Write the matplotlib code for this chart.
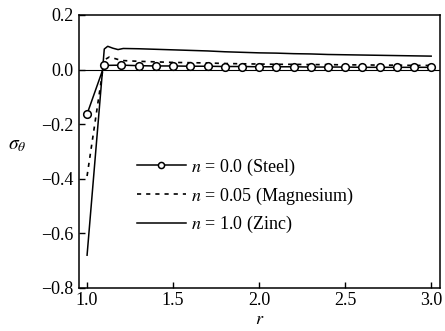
import matplotlib
matplotlib.use("Agg")
import matplotlib.pyplot as plt

plt.rcParams["font.family"] = ["Liberation Serif", "DejaVu Serif"]
plt.rcParams["mathtext.fontset"] = "stix"
plt.rcParams["font.size"] = 13

# hoop stress sigma_theta vs radius r for three hardening exponents
r_steel = [1.0, 1.1, 1.2, 1.3, 1.4, 1.5, 1.6, 1.7, 1.8, 1.9, 2.0,
           2.1, 2.2, 2.3, 2.4, 2.5, 2.6, 2.7, 2.8, 2.9, 3.0]
s_steel = [-0.163, 0.015, 0.016, 0.014, 0.013, 0.013, 0.012, 0.012, 0.011, 0.011, 0.010,
           0.010, 0.010, 0.009, 0.009, 0.009, 0.008, 0.008, 0.008, 0.008, 0.008]

r_mg = [1.0, 1.1, 1.13, 1.2, 1.3, 1.4, 1.5, 1.6, 1.7, 1.8, 1.9, 2.0,
        2.1, 2.2, 2.3, 2.4, 2.5, 2.6, 2.7, 2.8, 2.9, 3.0]
s_mg = [-0.39, 0.035, 0.046, 0.033, 0.030, 0.028, 0.026, 0.025, 0.024, 0.022, 0.021, 0.020,
        0.019, 0.019, 0.018, 0.018, 0.017, 0.017, 0.016, 0.016, 0.015, 0.015]

r_zn = [1.0, 1.1, 1.12, 1.15, 1.18, 1.21, 1.3, 1.4, 1.5, 1.6, 1.7, 1.8, 1.9, 2.0,
        2.1, 2.2, 2.3, 2.4, 2.5, 2.6, 2.7, 2.8, 2.9, 3.0]
s_zn = [-0.68, 0.075, 0.085, 0.078, 0.073, 0.077, 0.076, 0.074, 0.072, 0.070, 0.068,
        0.065, 0.063, 0.061, 0.060, 0.058, 0.057, 0.055, 0.054, 0.053, 0.052, 0.051,
        0.050, 0.049]

labels = [r"$n$ = 0.0 (Steel)", r"$n$ = 0.05 (Magnesium)", r"$n$ = 1.0 (Zinc)"]
x_ticks = [1.0, 1.5, 2.0, 2.5, 3.0]
y_ticks = [-0.8, -0.6, -0.4, -0.2, 0.0, 0.2]

fig = plt.figure(figsize=(4.45, 3.31), dpi=100)
ax = fig.add_axes([0.1775, 0.13, 0.8115, 0.825])

ax.axhline(0.0, color="black", lw=0.8, zorder=1)
ax.plot(r_steel, s_steel, color="black", lw=1.1, marker="o", ms=5.5,
        mfc="white", mec="black", mew=1.1, label=labels[0], zorder=3)
ax.plot(r_mg, s_mg, color="black", lw=1.2, ls=(0, (2.5, 3)), label=labels[1], zorder=2)
ax.plot(r_zn, s_zn, color="black", lw=1.1, label=labels[2], zorder=2)

ax.set_xlim(0.953, 3.052)
ax.set_ylim(-0.8, 0.2)
ax.set_xticks(x_ticks)
ax.set_yticks(y_ticks)
ax.set_xticklabels([f"{v:.1f}" for v in x_ticks])
ax.set_yticklabels([f"{v:.1f}".replace("-", "\u2212") for v in y_ticks])
ax.tick_params(direction="in", length=4, width=1, labelsize=13, pad=4)
ax.tick_params(axis="x", pad=3)
for sp in ax.spines.values():
    sp.set_linewidth(1.1)

ax.set_xlabel(r"$r$", fontsize=13)
ax.xaxis.set_label_coords(0.5, -0.085)
ax.set_ylabel(r"$\sigma_\theta$", fontsize=14, rotation=0)
ax.yaxis.set_label_coords(-0.17, 0.49)

leg = ax.legend(loc="center left", bbox_to_anchor=(0.16, 0.337), frameon=False,
                borderpad=0, borderaxespad=0, handlelength=2.7, handletextpad=0.3,
                labelspacing=0.43, fontsize=13, markerscale=0.8)

fig.savefig("out.png", dpi=100)
